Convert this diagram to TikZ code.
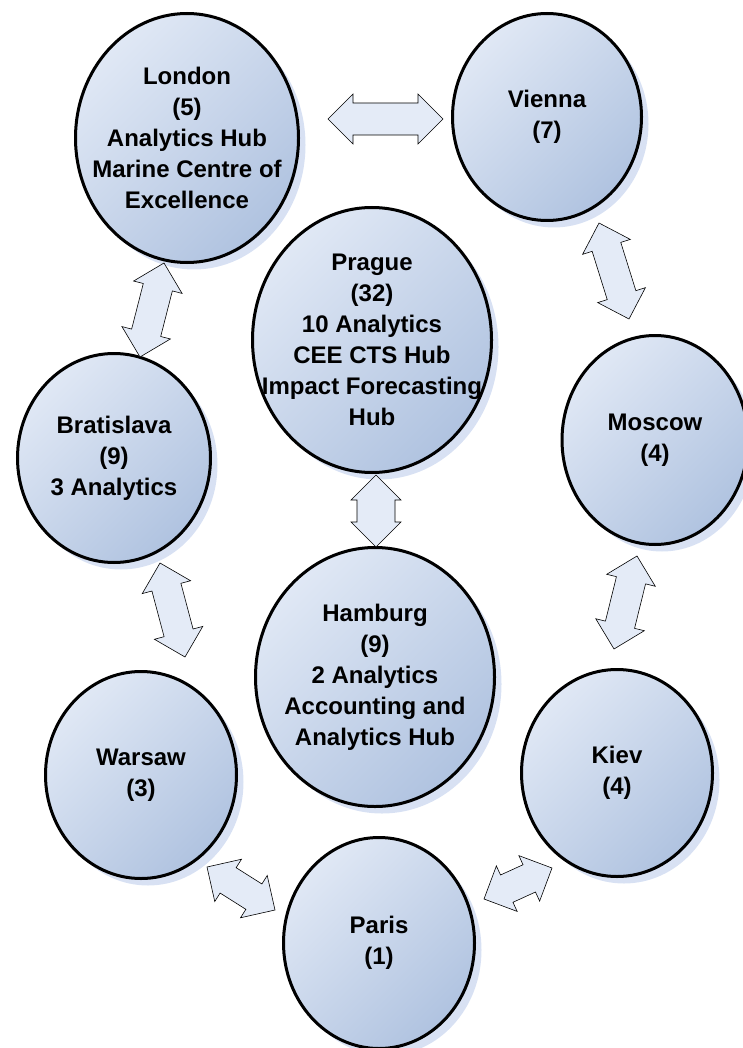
\documentclass[tikz,border=0pt]{standalone}
\usepackage{fontspec}
\setmainfont{Liberation Sans}
\usetikzlibrary{shapes.geometric, shadows, calc}

\definecolor{cityLight}{RGB}{224,232,245}
\definecolor{cityDark}{RGB}{176,195,224}
\definecolor{cityShadow}{RGB}{178,196,232}
\definecolor{arrowFill}{RGB}{228,235,247}

% block arrow with two heads: [shaft half width]{from}{to}
\newcommand{\twoway}[3][15pt]{%
  \coordinate (tw-s) at ($(#2)!25pt!(#3)$);
  \coordinate (tw-e) at ($(#3)!25pt!(#2)$);
  \draw[twoway] (#2) -- ($(tw-s)!25pt!90:(#3)$) -- ($(tw-s)!#1!90:(#3)$)
    -- ($(tw-e)!#1!-90:(#2)$) -- ($(tw-e)!25pt!-90:(#2)$) -- (#3)
    -- ($(tw-e)!25pt!90:(#2)$) -- ($(tw-e)!#1!90:(#2)$)
    -- ($(tw-s)!#1!-90:(#3)$) -- ($(tw-s)!25pt!-90:(#3)$) -- cycle;
}

\begin{document}
\begin{tikzpicture}[x=1pt, y=-1pt,
    city/.style={ellipse, draw=black, line width=3pt, top color=cityLight,
      bottom color=cityDark, shading angle=45,
      drop shadow={shadow xshift=7pt, shadow yshift=-7pt, fill=cityShadow}},
    citytext/.style={align=center, font=\bfseries\fontsize{24}{31}\selectfont},
    twoway/.style={draw=black, line width=0.6pt, fill=arrowFill, line join=miter}]
    \useasboundingbox (0,0) rectangle (742,1048);

    % Define nodes
    \node[city, minimum width=223, minimum height=249] (london) at (187,138) {};
    \node[city, minimum width=189, minimum height=207] (vienna) at (547,117) {};
    \node[city, minimum width=239, minimum height=265] (prague) at (372,340) {};
    \node[city, minimum width=193, minimum height=209] (bratislava) at (114,458) {};
    \node[city, minimum width=186, minimum height=209] (moscow) at (655,440) {};
    \node[city, minimum width=239, minimum height=259] (hamburg) at (375,677) {};
    \node[city, minimum width=191, minimum height=207] (warsaw) at (141,775) {};
    \node[city, minimum width=191, minimum height=207] (kiev) at (617,773) {};
    \node[city, minimum width=191, minimum height=211] (paris) at (379,943) {};

    % Texts
    \node[citytext] (london-txt) at (london) {London\\(5)\\Analytics Hub\\Marine Centre of\\Excellence};
    \node[citytext] (vienna-txt) at (vienna) {Vienna\\(7)};
    \node[citytext] (prague-txt) at (prague) {Prague\\(32)\\10 Analytics\\CEE CTS Hub\\Impact Forecasting\\Hub};
    \node[citytext] (bratislava-txt) at (bratislava) {Bratislava\\(9)\\3 Analytics};
    \node[citytext] (moscow-txt) at (moscow) {Moscow\\(4)};
    \node[citytext] (hamburg-txt) at (hamburg) {Hamburg\\(9)\\2 Analytics\\Accounting and\\Analytics Hub};
    \node[citytext] (warsaw-txt) at (warsaw) {Warsaw\\(3)};
    \node[citytext] (kiev-txt) at (kiev) {Kiev\\(4)};
    \node[citytext] (paris-txt) at (paris) {Paris\\(1)};

    % Arrow ends
    \coordinate (lon-vie) at (328,119);
    \coordinate (vie-lon) at (443,119);
    \coordinate (lon-bra) at (164,263);
    \coordinate (bra-lon) at (140,357);
    \coordinate (vie-mos) at (599,223);
    \coordinate (mos-vie) at (629,319);
    \coordinate (pra-ham) at (376,475);
    \coordinate (ham-pra) at (376,547);
    \coordinate (bra-war) at (160,563);
    \coordinate (war-bra) at (185,657);
    \coordinate (mos-kie) at (637,556);
    \coordinate (kie-mos) at (614,649);
    \coordinate (war-par) at (207,867);
    \coordinate (par-war) at (275,910);
    \coordinate (kie-par) at (552,868);
    \coordinate (par-kie) at (484,899);

    % Draw arrows
    \twoway[16pt]{lon-vie}{vie-lon}
    \twoway{lon-bra}{bra-lon}
    \twoway{vie-mos}{mos-vie}
    \twoway[19pt]{pra-ham}{ham-pra}
    \twoway{bra-war}{war-bra}
    \twoway{mos-kie}{kie-mos}
    \twoway{war-par}{par-war}
    \twoway{kie-par}{par-kie}

\end{tikzpicture}
\end{document}
